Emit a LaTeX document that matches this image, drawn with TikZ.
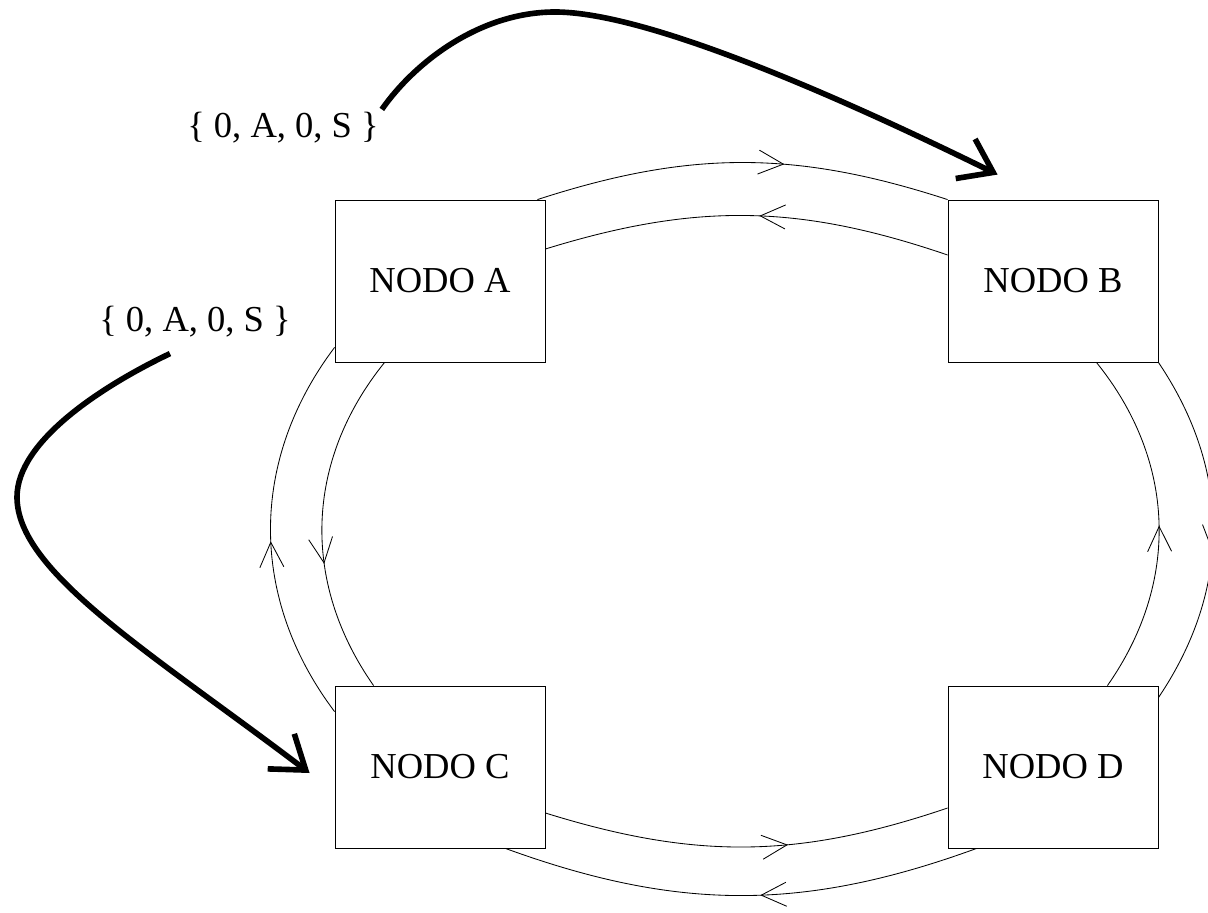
\documentclass[tikz,border=0pt]{standalone}
\usepackage{fontspec}
\setmainfont{Liberation Serif}
\usetikzlibrary{arrows.meta,calc,decorations.markings}

\begin{document}
\begin{tikzpicture}
[x=0.25mm,y=0.25mm,%
  boxDecorate/.style={shape=rectangle,draw,line width=0.6pt,minimum width=52.5mm,minimum height=40.5mm,inner sep=0pt},%
  tupleDecorate/.style={inner sep=2pt},%
  linkDecorate/.style={line width=0.6pt,postaction={decorate,decoration={markings,mark=at position #1 with {\arrow{Straight Barb[length=6.25mm,width=6mm]}}}}},%
  heavyDecorate/.style={-{Straight Barb[length=7.75mm,width=11mm]},line width=4pt}]
\fontsize{26pt}{31pt}\selectfont
\useasboundingbox (0,0) rectangle (1208,912);
\clip (0,0) rectangle (1208,912);
%% nodes or vertices
\foreach \nodename/\x/\y in {A/440/631, B/1053/631, C/440/145, D/1053/145}
{
  \node (\nodename) at (\x,\y) [boxDecorate] {NODO \nodename};
}
\node (tupleB) at (283,784) [tupleDecorate] {\{ 0, A, 0, S \}};
\node (tupleC) at (195,590) [tupleDecorate] {\{ 0, A, 0, S \}};
%% links between the nodes
\path
($(A.north east)+(-8,0)$) edge[linkDecorate=0.6,bend left=18] (B.north west)
($(B.west)+(0,26)$) edge[linkDecorate=0.47,bend right=18] ($(A.east)+(0,32)$)
($(C.north west)+(0,-26)$) edge[linkDecorate=0.47,bend left=37] ($(A.south west)+(0,15)$)
($(A.south west)+(50,0)$) edge[linkDecorate=0.62,bend right=37] ($(C.north west)+(39,0)$)
($(D.north east)+(-51,0)$) edge[linkDecorate=0.49,bend right=37] ($(B.south east)+(-62,0)$)
(B.south east) edge[linkDecorate=0.56,bend left=34] ($(D.north east)+(0,-12)$)
($(C.east)+(0,-46)$) edge[linkDecorate=0.6,bend right=18] ($(D.west)+(0,-41)$)
($(D.south west)+(29,0)$) edge[linkDecorate=0.46,bend left=20] ($(C.south east)+(-40,0)$);
%% messages sent to B and C
\draw[heavyDecorate] (tupleB.north east) .. controls (415,850) and (480,900) .. (555,900)
  .. controls (650,900) and (850,810) .. ($(B.north west)+(50,25)$);
\draw[heavyDecorate] ($(tupleC.south)+(-25,-13)$) .. controls (100,525) and (17,470) .. (17,415)
  .. controls (17,340) and (150,260) .. ($(C.west)+(-25,-6)$);
\end{tikzpicture}
\end{document}
